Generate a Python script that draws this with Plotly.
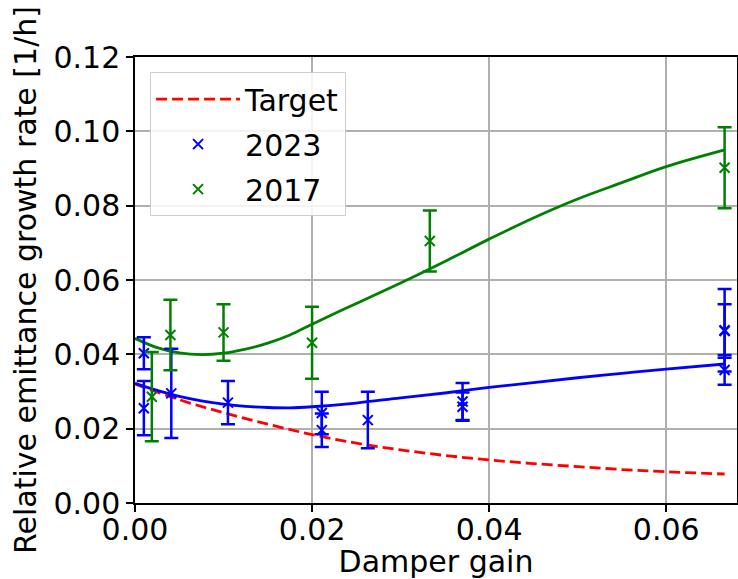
import plotly.graph_objects as go

# ---- data ----
fit_x = [0, 0.0025, 0.005, 0.0075, 0.01, 0.0125, 0.015, 0.0175, 0.02, 0.025, 0.03,
         0.035, 0.04, 0.045, 0.05, 0.055, 0.06, 0.0666]
fit_2017 = [0.0443, 0.0418, 0.0404, 0.0399, 0.0403, 0.0414, 0.0430, 0.0452, 0.0481,
            0.0537, 0.0592, 0.0650, 0.0710, 0.0767, 0.0818, 0.0862, 0.0905, 0.0950]
fit_2023 = [0.0322, 0.0303, 0.0287, 0.0275, 0.0266, 0.0260, 0.0257, 0.0256, 0.0259,
            0.0269, 0.0283, 0.0296, 0.0311, 0.0324, 0.0337, 0.0349, 0.0360, 0.0374]

target_x = [0, 0.005, 0.01, 0.015, 0.02, 0.025, 0.03, 0.035, 0.04, 0.045, 0.05,
            0.055, 0.06, 0.0666]
target_y = [0.0320, 0.0278, 0.0243, 0.0212, 0.0184, 0.0161, 0.0143, 0.0128, 0.0116,
            0.0106, 0.0098, 0.0090, 0.0084, 0.0078]

x_2023 = [0.0010, 0.0010, 0.0041, 0.0105, 0.0211, 0.0211, 0.0263, 0.0370, 0.0370,
          0.0666, 0.0666, 0.0666]
y_2023 = [0.0403, 0.0255, 0.0295, 0.0270, 0.0242, 0.0196, 0.0223, 0.0273, 0.0259,
          0.0465, 0.0463, 0.0358]
e_2023 = [0.0043, 0.0073, 0.0120, 0.0058, 0.0057, 0.0045, 0.0076, 0.0050, 0.0038,
          0.0111, 0.0072, 0.0040]

x_2017 = [0.0019, 0.0040, 0.0100, 0.0200, 0.0333, 0.0666]
y_2017 = [0.0286, 0.0452, 0.0459, 0.0431, 0.0705, 0.0902]
e_2017 = [0.0120, 0.0095, 0.0076, 0.0097, 0.0082, 0.0109]

x_ticks = [0.00, 0.02, 0.04, 0.06]
y_ticks = [0.00, 0.02, 0.04, 0.06, 0.08, 0.10, 0.12]

RED, BLUE, GREEN = "#ff0000", "#0000ff", "#008000"
FONT = "DejaVu Sans"
FS = 30

fig = go.Figure()

fig.add_trace(go.Scatter(
    x=target_x, y=target_y, mode="lines", name="Target",
    line=dict(color=RED, width=2.8, dash="11px,5px", shape="spline"),
    legendgroup="a"))

fig.add_trace(go.Scatter(
    x=fit_x, y=fit_2023, mode="lines", showlegend=False,
    line=dict(color=BLUE, width=2.8, shape="spline")))
fig.add_trace(go.Scatter(
    x=fit_x, y=fit_2017, mode="lines", showlegend=False,
    line=dict(color=GREEN, width=2.8, shape="spline")))

fig.add_trace(go.Scatter(
    x=x_2023, y=y_2023, mode="markers", name="2023",
    marker=dict(symbol="x-thin-open", size=10, color=BLUE,
                line=dict(color=BLUE, width=2)),
    error_y=dict(type="data", array=e_2023, color=BLUE, thickness=2.5, width=7),
    legendgroup="b"))

fig.add_trace(go.Scatter(
    x=x_2017, y=y_2017, mode="markers", name="2017",
    marker=dict(symbol="x-thin-open", size=10, color=GREEN,
                line=dict(color=GREEN, width=2)),
    error_y=dict(type="data", array=e_2017, color=GREEN, thickness=2.5, width=7),
    legendgroup="c"))

axis_common = dict(
    showline=True, mirror=True, linecolor="black", linewidth=1.5,
    showgrid=True, gridcolor="#b0b0b0", gridwidth=1.5,
    ticks="outside", ticklen=7, tickwidth=1.5, tickcolor="black",
    zeroline=False, automargin=False,
    tickfont=dict(family=FONT, size=FS, color="black"),
)

fig.update_xaxes(
    range=[0, 0.068], tickvals=x_ticks, tickformat=".2f", ticklabelstandoff=-8,
    title=dict(text="Damper gain", font=dict(family=FONT, size=FS, color="black"),
               standoff=3),
    **axis_common)
fig.update_yaxes(
    range=[0, 0.12], tickvals=y_ticks, tickformat=".2f",
    title=dict(text="Relative emittance growth rate [1/h]",
               font=dict(family=FONT, size=FS, color="black"), standoff=8),
    **axis_common)

fig.update_layout(
    width=738, height=579,
    margin=dict(l=135, r=1, t=57, b=76),
    paper_bgcolor="white", plot_bgcolor="white",
    font=dict(family=FONT, size=FS, color="black"),
    legend=dict(
        x=0.025, y=0.966, xanchor="left", yanchor="top",
        bgcolor="rgba(255,255,255,0.85)", bordercolor="#cccccc", borderwidth=1,
        font=dict(family=FONT, size=FS, color="black"),
        tracegroupgap=3, traceorder="grouped", itemwidth=84,
    ),
)

fig.write_html("out.html")
